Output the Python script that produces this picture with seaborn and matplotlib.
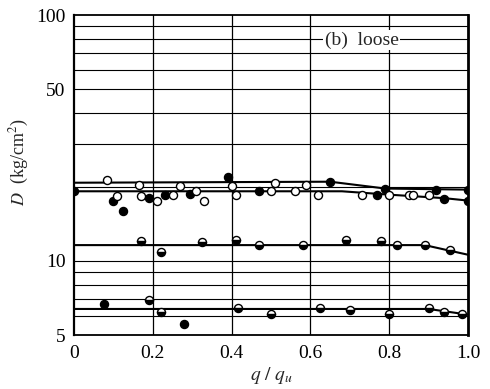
import matplotlib
matplotlib.use("Agg")
import matplotlib.pyplot as plt
import seaborn as sns
import numpy as np

# ---- data ----
# fitted curves
top1_x = [0.0, 0.65, 0.79, 1.0]
top1_D = [20.8, 21.0, 19.7, 19.5]
top2_x = [0.0, 0.68, 0.80, 0.94, 1.0]
top2_D = [19.2, 19.2, 18.6, 18.0, 17.6]
mid_x = [0.0, 0.89, 1.0]
mid_D = [11.6, 11.6, 10.6]
bot_x = [0.0, 0.90, 1.0]
bot_D = [6.38, 6.38, 6.05]

# measured points, upper band
top_filled_x = [0.0, 0.10, 0.125, 0.19, 0.23, 0.295, 0.39, 0.47, 0.65, 0.77, 0.79, 0.92, 0.94, 1.0, 1.0]
top_filled_D = [19.3, 17.6, 15.9, 17.95, 18.6, 18.8, 22.0, 19.3, 21.0, 18.5, 19.7, 19.5, 17.8, 19.5, 17.6]
top_open_x = [0.083, 0.165, 0.11, 0.17, 0.21, 0.25, 0.27, 0.31, 0.33, 0.40, 0.41, 0.50, 0.51,
              0.56, 0.59, 0.62, 0.73, 0.80, 0.85, 0.86, 0.90]
top_open_D = [21.4, 20.4, 18.3, 18.3, 17.6, 18.5, 20.1, 19.3, 17.6, 20.1, 18.6, 19.3, 20.8,
              19.3, 20.4, 18.6, 18.5, 18.5, 18.5, 18.6, 18.5]

# measured points, middle band
mid_pts_x = [0.17, 0.22, 0.325, 0.41, 0.47, 0.58, 0.69, 0.78, 0.82, 0.89, 0.955]
mid_pts_D = [12.04, 10.9, 11.93, 12.15, 11.6, 11.6, 12.15, 12.04, 11.6, 11.6, 11.08]

# measured points, lower band
bot_filled_x = [0.077, 0.28]
bot_filled_D = [6.71, 5.52]
bot_half_x = [0.19, 0.22, 0.415, 0.50, 0.625, 0.70, 0.80, 0.90, 0.94, 0.985]
bot_half_D = [6.96, 6.23, 6.46, 6.11, 6.46, 6.34, 6.06, 6.46, 6.23, 6.06]

x_ticks = [0, 0.2, 0.4, 0.6, 0.8, 1.0]
x_ticklabels = ["0", "0.2", "0.4", "0.6", "0.8", "1.0"]
y_ticks = [5, 10, 50, 100]
y_ticklabels = ["5", "10", "50", "100"]
y_grid = [6, 7, 8, 9, 10, 20, 30, 40, 50, 60, 70, 80, 90]

# ---- style ----
sns.set_style("white")
plt.rcParams["font.family"] = ["Liberation Serif", "DejaVu Serif"]
plt.rcParams["mathtext.fontset"] = "stix"

fig = plt.figure(figsize=(4.9, 3.89), dpi=100)
ax = fig.add_axes([74 / 490, 1 - 335 / 389, (468 - 74) / 490, (335 - 15) / 389])
ax.set_yscale("log")
ax.set_xlim(0, 1.0)
ax.set_ylim(5, 100)

# grid
for g in y_grid:
    ax.axhline(g, color="black", lw=0.8, zorder=1)
for g in x_ticks[1:-1]:
    ax.axvline(g, color="black", lw=0.9, zorder=1)

line_kw = dict(color="black", lw=1.5, estimator=None, sort=False, ax=ax, zorder=3)
sns.lineplot(x=top1_x, y=top1_D, **line_kw)
sns.lineplot(x=top2_x, y=top2_D, **line_kw)
sns.lineplot(x=mid_x, y=mid_D, **line_kw)
sns.lineplot(x=bot_x, y=bot_D, **line_kw)

pt_kw = dict(estimator=None, sort=False, ax=ax, linestyle="", marker="o",
             markersize=5.8, markeredgecolor="black", markeredgewidth=1.0, zorder=4)
sns.lineplot(x=top_filled_x, y=top_filled_D, color="black", markerfacecolor="black", **pt_kw)
sns.lineplot(x=top_open_x, y=top_open_D, color="black", markerfacecolor="white", **pt_kw)
sns.lineplot(x=mid_pts_x, y=mid_pts_D, color="black", markerfacecolor="black",
             fillstyle="bottom", markerfacecoloralt="white", **pt_kw)
sns.lineplot(x=bot_filled_x, y=bot_filled_D, color="black", markerfacecolor="black", **pt_kw)
sns.lineplot(x=bot_half_x, y=bot_half_D, color="black", markerfacecolor="black",
             fillstyle="bottom", markerfacecoloralt="white", **pt_kw)

ax.set_xticks(x_ticks)
ax.set_xticklabels(x_ticklabels)
ax.set_yticks(y_ticks)
ax.set_yticklabels(y_ticklabels)
ax.yaxis.set_minor_locator(matplotlib.ticker.NullLocator())
ax.tick_params(axis="both", length=0, labelsize=14, colors="black")
ax.tick_params(axis="x", pad=7)
ax.tick_params(axis="y", pad=6)

for s in ax.spines.values():
    s.set_color("black")
    s.set_linewidth(1.3)
ax.spines["right"].set_linewidth(2.0)
ax.spines["left"].set_linewidth(1.6)

ax.set_xlabel(r"$q\ /\ q_u$", fontsize=14, labelpad=2)
ax.set_ylabel(r"$D$  (kg/cm$^2$)", fontsize=13)
ax.yaxis.set_label_coords(-0.11, 0.54)

ax.text(0.73, 79, "(b)  loose", fontsize=14, ha="center", va="center", zorder=5,
        bbox=dict(facecolor="white", edgecolor="none", pad=1.0))

fig.savefig("out.png", dpi=100, facecolor="white")
